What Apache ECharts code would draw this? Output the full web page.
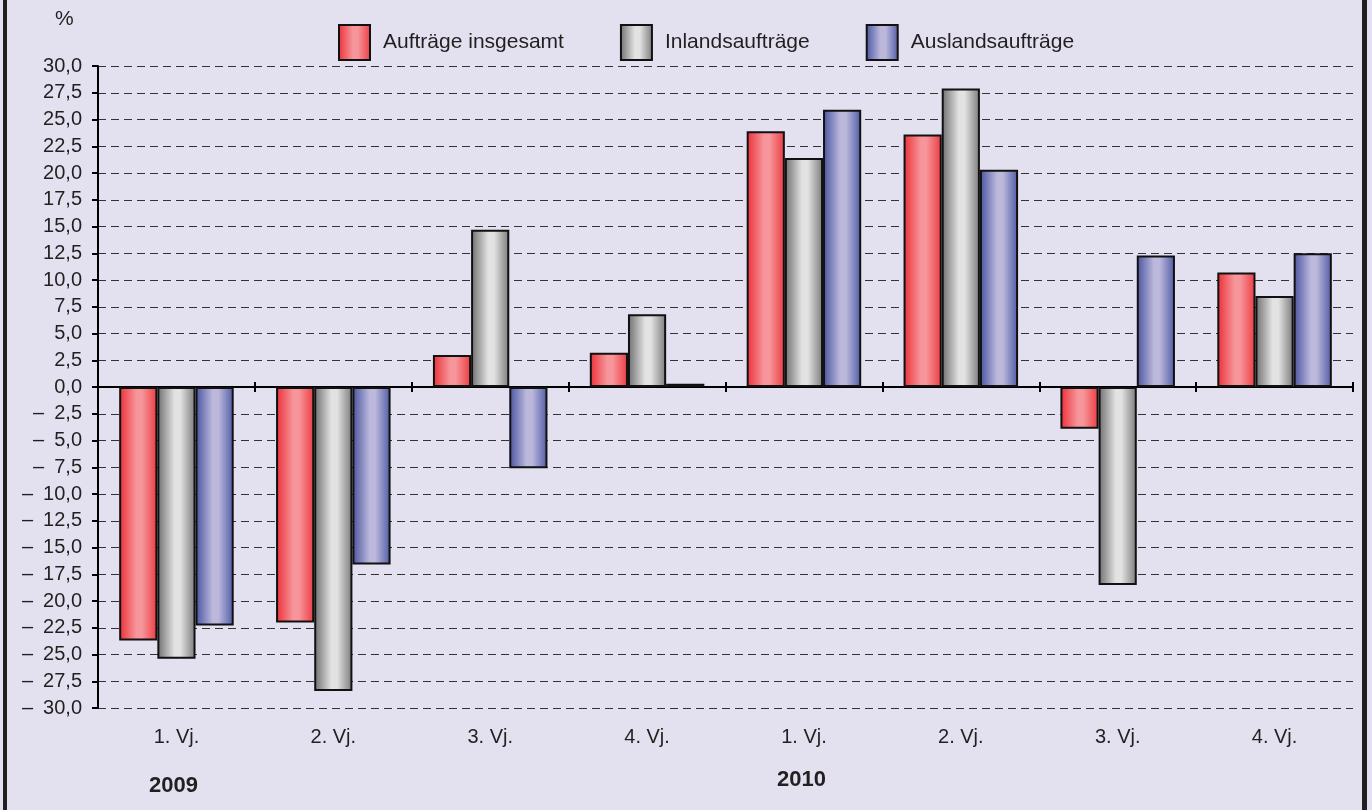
<!DOCTYPE html>
<html>
<head>
<meta charset="utf-8">
<script src="https://cdn.jsdelivr.net/npm/echarts@6/dist/echarts.min.js"></script>
<style>
  html, body { margin: 0; padding: 0; background: #e3e0f0; }
  #frame { position: absolute; left: 3px; top: 0; width: 1364px; height: 810px;
    border-left: 4px solid #231f20; border-right: 5px solid #231f20; box-sizing: border-box; }
  #main { position: absolute; left: 0; top: 0; width: 1372px; height: 810px; }
</style>
</head>
<body>
<div id="frame"></div>
<div id="main"></div>
<script>
  // quarters (2009: 1-4, 2010: 1-4)
  const quarters = ["1. Vj.", "2. Vj.", "3. Vj.", "4. Vj.", "1. Vj.", "2. Vj.", "3. Vj.", "4. Vj."];
  const years = ["2009", "2010"];
  const seriesNames = ["Aufträge insgesamt", "Inlandsaufträge", "Auslandsaufträge"];

  // change vs. previous year in %
  const gesamt = [-23.7, -22.0, 3.0, 3.2, 23.9, 23.6, -3.9, 10.7];
  const inland = [-25.4, -28.4, 14.7, 6.8, 21.4, 27.9, -18.5, 8.5];
  const ausland = [-22.3, -16.6, -7.6, 0.3, 25.9, 20.3, 12.3, 12.5];

  const yMin = -30, yMax = 30;

  function grad(edgeL, mid, edgeR) {
    return new echarts.graphic.LinearGradient(0, 0, 1, 0, [
      { offset: 0, color: edgeL },
      { offset: 0.45, color: mid },
      { offset: 0.6, color: mid },
      { offset: 1, color: edgeR },
    ]);
  }

  const fills = [
    grad("#ec2e36", "#f6959a", "#ec3a40"),
    grad("#6e6e6e", "#e2e2e2", "#7a7a7a"),
    grad("#48539f", "#bbb8dc", "#4f5aa4"),
  ];

  const fmt = function (v) {
    const s = Math.abs(v).toFixed(1).replace(".", ",");
    return v < 0 ? "\u2013\u2002" + s : s;
  };

  var chartDom = document.getElementById("main");
  var myChart = echarts.init(chartDom);
  var option;

  const gridTop = 66, gridBottom = 102;
  const plotH = 810 - gridTop - gridBottom;
  // shift of the top axis down to the zero line
  const zeroShift = -plotH * yMax / (yMax - yMin);

  option = {
    animation: false,
    backgroundColor: "transparent",
    textStyle: { fontFamily: "Liberation Sans, Arial, sans-serif" },
    legend: {
      top: 19,
      left: 333,
      icon: "rect",
      itemWidth: 31,
      itemHeight: 35,
      itemGap: 56,
      itemStyle: { borderColor: "#111", borderWidth: 2 },
      textStyle: { fontSize: 21, color: "#231f20", padding: [0, 0, 0, 8] },
      data: seriesNames,
    },
    grid: { left: 98, right: 19, top: gridTop, bottom: gridBottom },
    xAxis: [
      {
        type: "category",
        data: quarters,
        axisLine: { onZero: true, lineStyle: { color: "#000", width: 2 } },
        axisTick: { show: true, length: 5, lineStyle: { color: "#000", width: 2 } },
        axisLabel: { show: false },
        splitLine: { show: false },
      },
      {
        // upward half of the ticks on the zero line
        type: "category",
        data: quarters,
        position: "top",
        offset: zeroShift,
        axisLine: { show: false, onZero: false },
        axisTick: { show: true, length: 5, lineStyle: { color: "#000", width: 2 } },
        axisLabel: { show: false },
      },
      {
        type: "category",
        data: quarters,
        position: "bottom",
        axisLine: { show: false, onZero: false },
        axisTick: { show: false },
        axisLabel: { show: true, margin: 19, fontSize: 20, color: "#231f20" },
      },
    ],
    yAxis: {
      type: "value",
      min: yMin,
      max: yMax,
      interval: 2.5,
      axisLine: { show: true, lineStyle: { color: "#000", width: 2 } },
      axisTick: { show: true, length: 6, lineStyle: { color: "#000", width: 2 } },
      axisLabel: { formatter: fmt, fontSize: 20, color: "#231f20", margin: 16 },
      splitLine: { lineStyle: { color: "#333", type: [8, 5], width: 1 } },
    },
    graphic: [
      { type: "text", left: 55, top: 9, style: { text: "%", fontSize: 21, fill: "#231f20", fontFamily: "Liberation Sans" } },
      { type: "text", left: 149, top: 775, style: { text: years[0], fontSize: 22, fontWeight: "bold", fill: "#231f20", fontFamily: "Liberation Sans" } },
      { type: "text", left: 777, top: 769, style: { text: years[1], fontSize: 22, fontWeight: "bold", fill: "#231f20", fontFamily: "Liberation Sans" } },
    ],
    series: [gesamt, inland, ausland].map(function (vals, i) {
      return {
        name: seriesNames[i],
        type: "bar",
        data: vals,
        barGap: "0%",
        barCategoryGap: "27%",
        itemStyle: { color: fills[i], borderColor: "#111", borderWidth: 2 },
      };
    }),
  };

  option && myChart.setOption(option);
</script>
</body>
</html>
